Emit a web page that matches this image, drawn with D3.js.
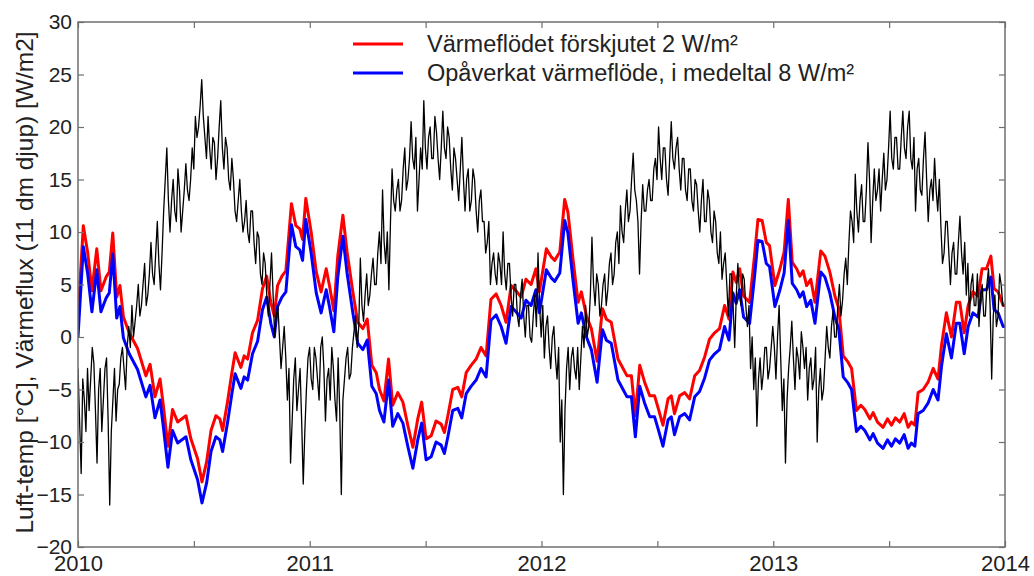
<!DOCTYPE html>
<html>
<head>
<meta charset="utf-8">
<script src="https://cdn.jsdelivr.net/npm/d3@7"></script>
<style>
  html, body { margin: 0; padding: 0; background: #fff; }
  svg { display: block; }
  text { font-family: "Liberation Sans", Arial, Helvetica, sans-serif; fill: #222; }
</style>
</head>
<body>
<svg id="chart" width="1034" height="576"></svg>
<script>
// Air temperature, one reading every 2.5 days from 2010-01-01 (°C)
const tempStartYear = 2010;
const tempStepDays = 2.5;
const airTemp = [
  // 2010
  -3,-8, -13,-4, -6,-9, -3,-7, -4,-1, -2.5,-7, -12,-5, -3,-9, -6,-3, -2,-8,
  -16,-9, -6,-3, -8,-5, -4.5,-2, -1,-3, -5,-1, 1,-1, 3,0, 1.5,3, 5,2,
  3,5, 7,3, 4,6, 9,6, 5,8, 11,7, 4.5,8, 12,15, 18,13, 10,13,
  15,12, 11,16, 14,10, 12,14, 16.5,14, 13,15, 18,16, 21,19, 20,22, 24.5,21,
  19,17, 21,18, 16,19, 18.5,15, 17,20, 22.5,18, 16,19, 18,15, 14,17, 15,12,
  11,13, 15,12, 10,11, 13,10, 9,12, 12,9, 7,10, 9.5,6, 5,8, 7,4,
  2,5, 8,4, 0,2, 3,0, -3,-1, 1,-2, -6,-3, -12,-8, -4,-2, -7,-5,
  -3,-8, -14,-9, -5,-2,
  // 2011
  -1,-4, -5,-1, -2,-4, -6,-1, 0,-3, -8,-4, -3,-6, -1,-3, -6,-8, -2,-7,
  -15,-6, -4,-2, -1,-4, -3.5,-1, 0.5,2, -1,1, 7.5,3, 1.5,4, 6,3, 4,6,
  7.5,5, 5,8, 10,7, 14,9, 7,10, 4.5,11, 16,13, 12,14, 15,12, 13,16,
  18,14, 15,17, 20.5,17, 16,19, 12,15, 18,16, 22.5,18, 16,19, 20,17, 17,21,
  19.5,17, 15,18, 21.5,18, 17,20, 19,16, 14,18, 17,15, 13,16, 19,15, 12,15,
  16,12, 13,16, 15,12, 10,13, 14,11, 11,8, 9,11, 5,7, 8,6, 5,8,
  7,5, 10,6, 4.5,7, 7,4, 2,5, 5,2, 1,4, 5.5,2, 0,3, 3,0,
  -0.5,2, 4,1, 8,3,
  // 2012
  0,3, -2,1, 2,-1, -3,0, 1,-2, -4,-1, -10,-6, -15,-7, -3,-1, -5,-2,
  -1,-3, -4,-1, -5,-2, 1,-1, 3,0, 1,4, 9.5,5, 3,6, 5,2, 3,5,
  6,3, 4.5,7, 8,5, 6,9, 10,7, 12.5,10, 9,12, 14,11, 12,15, 17.5,14,
  13,11, 6,11, 14.5,12, 12,14, 15,13, 13,16, 17,15, 20,17, 15,18, 18,15,
  13.5,17, 20.5,17, 16,18, 19,16, 14,17, 17,14, 13,16, 16,13, 12,15, 14.5,12,
  10,13, 15,11, 11,14, 13,10, 9,12, 11,8, 7,10, 5.5,7, 8,5, 2,6,
  6,3, -1,4, 7,4, 3,6, 5.5,3, 1,3, -3,0, -5,-2, -8.5,-4, -2,-5,
  -3.5,-1, -1,-4, -3,-1,
  // 2013
  1,-1, -4,0, 3,-2, -7,-4, -12,-6, -3,-1, 1.5,-2, -5,-1, -2,-4, 0.5,-1,
  -3,-1, -6,-3, -2,-5, -4,-1, -10,-5, -3,-6, -5,-2, 1,-1, -2,1, 2.5,0,
  0,3, 5,2, 3.5,6, 7.5,5, 9,12, 11,9, 15.5,12, 10,13, 14.5,11, 11,14,
  18.5,15, 9,13, 16,13, 14,16, 12,15, 17.5,14, 15,18, 21.5,17, 16,19, 19,16,
  16,19, 21.5,18, 17,20, 21.5,17, 16,19, 12,16, 17,14, 13.5,17, 19.5,15, 11,14,
  15,13, 17,14, 12,15, 10.5,7, 8,11, 11,8, 5,8, 9,6, 6,9, 11.5,8,
  6,9, 4,7, 2,5, 6,3, 3,6, 1,4, 5,2, 2,5, 6.5,3, -4,2,
  4,1, 2,6, 5,3,
  3
];

// Undisturbed heat flux at 11 dm depth (W/m²): time in decimal years
const fluxYear = [
  2010.000,2010.023,2010.042,2010.060,2010.081,2010.099,2010.121,2010.135,2010.150,2010.167,
  2010.181,2010.196,2010.221,2010.257,2010.293,2010.311,2010.332,2010.354,2010.368,2010.388,
  2010.408,2010.430,2010.466,2010.487,2010.516,2010.535,2010.555,2010.574,2010.595,2010.612,
  2010.624,2010.645,2010.664,2010.678,2010.703,2010.717,2010.732,2010.753,2010.775,2010.796,
  2010.814,2010.832,2010.847,2010.861,2010.880,2010.897,2010.921,2010.940,2010.957,2010.969,
  2010.983,2011.006,2011.028,2011.049,2011.071,2011.085,2011.104,2011.121,2011.143,2011.161,
  2011.186,2011.207,2011.229,2011.248,2011.268,2011.287,2011.301,2011.320,2011.340,2011.358,
  2011.380,2011.402,2011.423,2011.445,2011.466,2011.483,2011.502,2011.524,2011.545,2011.567,
  2011.581,2011.596,2011.617,2011.639,2011.656,2011.675,2011.696,2011.718,2011.739,2011.761,
  2011.782,2011.804,2011.826,2011.847,2011.869,2011.890,2011.912,2011.933,2011.955,2011.976,
  2011.991,2012.007,2012.021,2012.043,2012.057,2012.079,2012.100,2012.114,2012.136,2012.158,
  2012.172,2012.194,2012.215,2012.240,2012.263,2012.280,2012.301,2012.330,2012.352,2012.369,
  2012.388,2012.405,2012.424,2012.445,2012.467,2012.488,2012.505,2012.524,2012.546,2012.560,
  2012.574,2012.596,2012.618,2012.639,2012.661,2012.682,2012.704,2012.725,2012.747,2012.768,
  2012.790,2012.809,2012.826,2012.840,2012.855,2012.872,2012.898,2012.919,2012.934,2012.952,
  2012.970,2012.984,2013.007,2013.029,2013.047,2013.065,2013.082,2013.101,2013.115,2013.129,
  2013.144,2013.162,2013.180,2013.205,2013.223,2013.244,2013.266,2013.283,2013.302,2013.323,
  2013.338,2013.359,2013.378,2013.395,2013.417,2013.431,2013.450,2013.474,2013.493,2013.510,
  2013.527,2013.546,2013.565,2013.582,2013.596,2013.611,2013.625,2013.647,2013.668,2013.690,
  2013.711,2013.726,2013.747,2013.769,2013.790,2013.805,2013.824,2013.841,2013.862,2013.884,
  2013.901,2013.920,2013.939,2013.953,2013.970,2013.992,2014.000
];
const fluxUndisturbed = [
  0,8.6,6,2.4,6.4,2.4,3.7,4.2,7.9,1.8,
  2.9,-0.1,-1.6,-3.1,-5.7,-4.6,-7.7,-6,-8.5,-12.4,
  -8.9,-10.1,-9.5,-11.7,-13.6,-15.8,-13.9,-10.9,-9.5,-9.8,
  -10.9,-8.2,-5.4,-3.5,-4.9,-3.8,-4.1,-1.6,-0.4,2.6,
  3.8,1.3,0,2.9,3.8,4.3,10.7,8.6,8.3,7.3,
  11.2,8,4.2,2.3,4.5,2.9,0.5,5.7,9.6,6.1,
  2.3,-0.6,-1.2,-0.3,-4.7,-5.4,-7,-8.1,-4.1,-8.5,
  -7.3,-8.2,-10.4,-12.5,-9.8,-8.2,-11.7,-11.4,-10,-10.3,
  -11.1,-9.5,-7,-6.8,-7.7,-5.4,-4.7,-4.1,-3,-3.8,
  1.6,2.1,1,-0.6,2.9,2.4,1.8,3.5,3,4.5,
  2.3,4.5,6.4,5.6,5.3,6.1,11.1,9.9,5.4,1.3,
  2.3,0,-1.2,-4.3,0.7,-0.3,-0.6,-4.1,-5,-5.7,
  -5.7,-9.5,-4.7,-6.3,-7.6,-7.6,-8.9,-10.4,-7.9,-7.6,
  -9.3,-7.6,-7.3,-7.9,-5.7,-5.2,-3.9,-2.2,-1.6,-1.2,
  1,-0.3,4.2,3.2,4.5,1.9,1.3,5.7,9.2,9.1,
  7,6.7,2.9,4.5,6.1,11.1,5.1,4.5,3.8,4.3,
  2.9,3.5,1.3,6.2,5.7,4.2,1.9,0.7,-3.8,-4.4,
  -5,-9,-8.5,-8.9,-9.8,-9.2,-10.1,-10.6,-9.8,-10.4,
  -9.7,-10.1,-9.3,-10.6,-10.1,-10.4,-7.3,-7,-6.3,-5,
  -6,-2.8,0.3,-2,1.3,1.3,-1.6,1,2.3,1.9,
  4.5,4.5,5.7,2.6,2.3,1,1
];
// The shifted heat flux is the undisturbed flux moved by 2 W/m²
const fluxShift = 2;

const yTicks = [-20, -15, -10, -5, 0, 5, 10, 15, 20, 25, 30];
const xTicks = [2010, 2010.5, 2011, 2011.5, 2012, 2012.5, 2013, 2013.5, 2014];

const legendLabels = ["Värmeflödet förskjutet 2 W/m²", "Opåverkat värmeflöde, i medeltal 8 W/m²"];
const yTitle = "Luft-temp [°C], Värmeflux (11 dm djup) [W/m2]";

// ---- layout ----
const svg = d3.select("#chart");
const plot = { left: 78, right: 1005, top: 22, bottom: 547 };

const x = d3.scaleLinear().domain([2010, 2014]).range([plot.left, plot.right]);
const y = d3.scaleLinear().domain([-20, 30]).range([plot.bottom, plot.top]);

const tempPts = airTemp.map((v, i) => ({ t: tempStartYear + i * tempStepDays / 365.25, v }));
const basePts = fluxYear.map((t, i) => ({ t, v: fluxUndisturbed[i] }));
const shiftPts = basePts.map(d => ({ t: d.t, v: d.v + fluxShift }));

const line = d3.line().x(d => x(d.t)).y(d => y(d.v));

svg.append("clipPath").attr("id", "plotclip")
  .append("rect")
  .attr("x", plot.left).attr("y", plot.top)
  .attr("width", plot.right - plot.left).attr("height", plot.bottom - plot.top);

const g = svg.append("g").attr("clip-path", "url(#plotclip)");

g.append("path").datum(shiftPts)
  .attr("fill", "none").attr("stroke", "#ff0000").attr("stroke-width", 3)
  .attr("stroke-linejoin", "round").attr("d", line);
g.append("path").datum(basePts)
  .attr("fill", "none").attr("stroke", "#0000ff").attr("stroke-width", 3)
  .attr("stroke-linejoin", "round").attr("d", line);
g.append("path").datum(tempPts)
  .attr("fill", "none").attr("stroke", "#000").attr("stroke-width", 1.3)
  .attr("stroke-linejoin", "round").attr("d", line);

// ---- axes: ticks drawn inward on all four sides ----
const axisColor = "#6f6f6f";
const tickLen = 6;
const fmtYear = d => Number.isInteger(d) ? String(d) : "";

function styleAxis(sel, fontSize) {
  sel.select(".domain").remove();
  sel.selectAll(".tick line").attr("stroke", axisColor).attr("stroke-width", 1.2);
  sel.selectAll(".tick text").attr("font-size", fontSize).attr("fill", "#222")
    .attr("font-family", "Liberation Sans, Arial, sans-serif");
}

svg.append("g").attr("transform", `translate(0,${plot.bottom})`)
  .call(d3.axisBottom(x).tickValues(xTicks).tickFormat(fmtYear)
    .tickSizeInner(-tickLen).tickSizeOuter(0).tickPadding(8))
  .call(s => styleAxis(s, 22));

svg.append("g").attr("transform", `translate(0,${plot.top})`)
  .call(d3.axisTop(x).tickValues(xTicks).tickFormat("")
    .tickSizeInner(-tickLen).tickSizeOuter(0))
  .call(s => styleAxis(s, 0));

svg.append("g").attr("transform", `translate(${plot.left},0)`)
  .call(d3.axisLeft(y).tickValues(yTicks).tickFormat(d3.format("d"))
    .tickSizeInner(-tickLen).tickSizeOuter(0).tickPadding(6))
  .call(s => styleAxis(s, 21));

svg.append("g").attr("transform", `translate(${plot.right},0)`)
  .call(d3.axisRight(y).tickValues(yTicks).tickFormat("")
    .tickSizeInner(-tickLen).tickSizeOuter(0))
  .call(s => styleAxis(s, 0));

// plot frame
svg.append("rect")
  .attr("x", plot.left).attr("y", plot.top)
  .attr("width", plot.right - plot.left).attr("height", plot.bottom - plot.top)
  .attr("fill", "none").attr("stroke", axisColor).attr("stroke-width", 1.5);

// y-axis title
svg.append("text")
  .attr("transform", `translate(24,${(plot.top + plot.bottom) / 2 - 2}) rotate(-90)`)
  .attr("text-anchor", "middle").attr("dominant-baseline", "central")
  .attr("font-size", 24.5)
  .text(yTitle);

// ---- legend ----
const legendColors = ["#ff0000", "#0000ff"];
const legend = svg.append("g");
legendLabels.forEach((lab, i) => {
  const ly = 44 + i * 29;
  legend.append("line")
    .attr("x1", 353).attr("x2", 403).attr("y1", ly).attr("y2", ly)
    .attr("stroke", legendColors[i]).attr("stroke-width", 3);
  legend.append("text")
    .attr("x", 427).attr("y", ly).attr("dominant-baseline", "central")
    .attr("font-size", 23.5)
    .text(lab);
});
</script>
</body>
</html>
